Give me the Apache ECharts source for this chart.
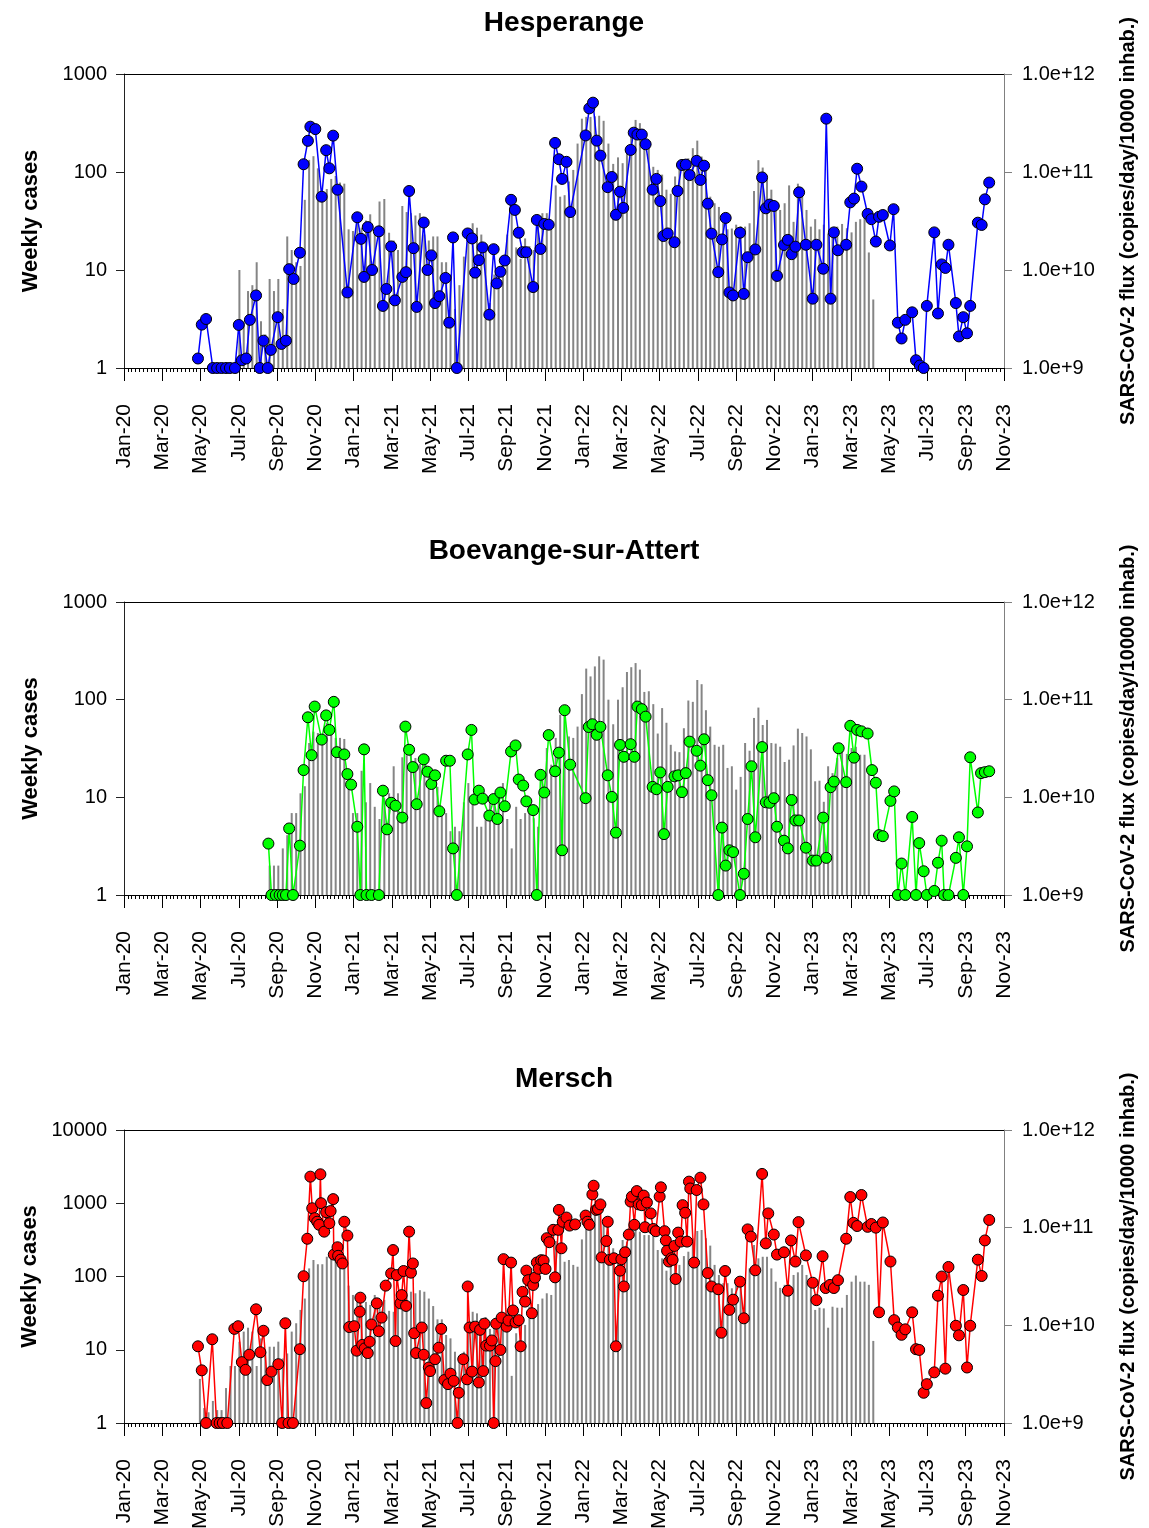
<!DOCTYPE html>
<html><head><meta charset="utf-8">
<script src="https://cdn.jsdelivr.net/npm/echarts@6/dist/echarts.min.js"></script>
<style>html,body{margin:0;padding:0;background:#fff}#c{width:1149px;height:1528px}</style>
</head><body><div id="c"></div>
<script>
// ---------- DATA ----------
// x positions: days since 2020-01-01; flux values in units of 1e9 copies/day/10000 inhab.
const FLUX_UNIT = 1e9;
const titles = ['Hesperange', 'Boevange-sur-Attert', 'Mersch'];
const lineColors = ['#0000ff', '#00ff00', '#ff0000'];
const leftMax = [1000, 1000, 10000];
const monthNames = ['Jan','Feb','Mar','Apr','May','Jun','Jul','Aug','Sep','Oct','Nov','Dec'];

// Hesperange
const hespDay = [117,123,130,141,148,155,162,168,176,182,
187,194,200,210,216,222,229,234,245,251,
258,263,270,280,286,293,297,305,315,322,
327,333,340,356,372,378,383,389,396,406,
412,417,424,430,442,448,453,460,465,476,
482,488,494,501,511,517,523,529,546,553,
558,564,570,581,588,593,599,606,616,622,
628,634,640,651,657,663,669,676,686,692,
697,704,710,735,741,747,753,759,770,776,
782,788,793,805,810,816,823,829,840,846,
852,857,864,875,880,887,893,899,910,916,
922,928,934,945,951,957,963,969,980,986,
992,1004,1015,1021,1027,1034,1039,1050,1056,1062,
1068,1074,1085,1096,1102,1113,1118,1125,1130,1136,
1148,1154,1160,1165,1172,1182,1188,1195,1200,1206,
1217,1223,1230,1236,1242,1253,1259,1265,1271,1276,
1288,1294,1300,1306,1311,1323,1328,1335,1341,1346,
1358,1364,1369,1376];
const hespFlux = [1.25,2.77,3.16,1,1,1,1,1,1,2.75,
1.2,1.25,3.1,5.5,1,1.9,1,1.53,3.3,1.76,
1.9,10.2,8.1,15,120,208,290,274,56,167,
109,235,66,5.9,34.5,20.8,8.5,27.4,10,24.8,
4.3,6.4,17.4,4.9,8.5,9.5,64,16.7,4.2,30.5,
10,14.1,4.6,5.4,8.3,2.9,21.5,1,23.6,21,
9.4,12.6,17,3.5,16.3,7.3,9.6,12.5,52,41,
24,15.2,15.2,6.7,32.4,16.4,29.5,29,198,135,
85,127,39,236,446,510,209,147,70,89,
36.6,63,43,168,252,241,241,192,66,85,
50.5,22.2,23.6,19.2,64,118,119,93,130,83,
116,47.5,23.5,9.5,20.5,34,5.9,5.5,24,5.7,
13.5,16.2,88,42.6,46.5,45,8.7,18,20.3,14.5,
17.3,62,18.1,5.1,18.1,10.3,350,5.1,24.2,15.9,
18.1,49,53.5,108,71,37.3,33,19.5,34.9,36.4,
17.8,41.7,2.9,2.0,3.1,3.7,1.2,1.06,1,4.3,
24.2,3.6,11.4,10.5,18.1,4.6,2.1,3.3,2.26,4.3,
30.4,28.8,52.6,78];
const hespBarStart = 183; // weekly bars from this day
const hespCases = [10,2.9,6.1,7,12,3,2.2,8.1,6.1,8.1,
4,22,16,12,11,52,133,145,109,56,
67,85,91,78,76,26,25,30,27,32,
37,26,50,53,24,20,16,45,39,38,
36,38,23,20,22,22,12,12,9,4,
7,13.7,26,30,27,23,17,4.6,9,10.7,
14,23,42,17,13,21,17.5,16,30,38,
38,27,73,56,
58,80,105,195,350,365,365,370,375,333,
195,121,141,123,175,270,340,315,247,182,
113,105,94,66,60,90,105,123,138,175,
209,144,107,56,48,44,30,26,26.5,29,
28,27.7,30,64,132,111,84,66,42,41,
48,73,31,76,66,41,27.7,33,26,29,
23.6,21.5,27.7,29.5,26.7,24.2,31,33,35,15.1,
5];

// Boevange-sur-Attert
const boevDay = [230,235,242,248,253,258,263,269,280,286,
293,299,304,315,322,327,334,339,351,356,
362,372,377,383,387,395,406,412,418,424,
431,442,447,453,459,465,476,482,488,494,
501,512,518,523,529,546,552,557,564,570,
581,588,594,599,606,616,623,628,635,640,
651,657,663,669,676,686,692,697,701,710,
735,740,746,753,759,770,776,782,788,794,
805,811,816,823,829,840,846,852,858,864,
875,881,887,893,899,910,916,922,928,934,
945,951,957,963,969,980,986,992,998,1004,
1015,1021,1027,1034,1039,1050,1056,1062,1068,1074,
1085,1096,1102,1113,1118,1125,1130,1137,1148,1154,
1160,1165,1172,1182,1189,1195,1200,1206,1218,1224,
1230,1236,1242,1253,1259,1264,1271,1276,1288,1294,
1300,1304,1311,1323,1328,1335,1341,1346,1358,1363,
1369,1376];
const boevFlux = [3.36,1,1,1,1,1,4.8,1,3.2,19,
66,27,85,39,69,49,95,29,27.5,17.3,
13.5,5,1,31,1,1,1,11.7,4.7,8.8,
8.2,6.2,53,30.7,20.4,8.5,24.5,18.3,13.7,16.8,
7.2,23.7,23.7,3,1,27.5,49,9.5,11.7,9.7,
6.5,9.6,6,11.2,8.1,29.5,34,15.2,13.2,9.1,
7.4,1,17,11.2,43.4,18.5,28.7,2.87,78,21.6,
9.8,52.5,56,43.7,52.7,16.8,10.1,4.35,34.4,26,
35,26,85,80,67,12.8,12.1,18,4.2,12.8,
16.4,16.8,11.3,17.7,37.2,30,21.1,39.3,15,10.5,
1,4.9,2,2.87,2.75,1,1.65,6,20.8,3.9,
32.7,8.9,8.8,9.8,5,3.6,3,9.4,5.8,5.8,
3.05,2.25,2.25,6.2,2.4,12.7,14.5,31.8,14.3,54,
25.5,49,47.4,45,19,14.1,4.1,4,9.2,11.5,
1,2.1,1,6.3,1,3.4,1.75,1,1.1,2.14,
3.6,1,1,2.4,3.9,1,3.15,25.7,7,17.7,
18.1,18.5];
const boevBarStart = 232;
const boevCases = [2,2,2,3,4.1,6.9,6.9,11,13,36,
47,45.6,44,58,53,40.6,40.6,39.6,17,6.9,
6.9,18.7,8.9,14,8,6,9.8,11,20.8,11,
25.7,27,29,25.3,22,21.6,18.5,18.9,12.8,6.9,
6.9,4.5,5,4.5,8.9,14,8.4,5,5,7.2,
9.1,10.6,11.5,14,6,3,8,6,6.9,8,
6.1,5,17,32,21.6,40.6,70,
76,42,40.6,53,114,208,173,219,278,257,
100,56,100,134,192,215,237,203,120,122,
90,45,82,58,34.5,29.5,29,51,98,95,
159,144,78,53,34.5,33,34.5,20,20.8,12,
16.2,36,30,65,83,55,62,36,35.5,33,
23,24.3,34,50.5,45.6,42,31,14.6,14.8,9,
20.8,17.7,25.3,29.5,27.8,32,33,27.3,27.3,20.8];

// Mersch
const merDay = [117,123,130,140,147,152,157,164,175,181,
187,193,199,210,217,222,228,235,246,252,
257,262,269,280,286,292,297,300,304,308,
311,313,314,319,322,327,329,333,334,340,
341,345,348,351,356,359,367,371,376,377,
380,384,389,392,395,403,406,410,416,424,
427,431,433,439,441,444,448,453,456,459,
461,464,473,476,480,484,486,494,500,504,
509,515,519,524,530,532,539,545,546,549,
553,558,564,566,571,573,576,582,585,588,
591,592,599,601,604,609,612,616,619,623,
628,631,634,638,640,643,649,651,654,657,
660,664,668,671,673,677,683,686,691,692,
696,698,704,709,718,735,738,741,746,748,
752,755,759,761,768,770,773,779,782,788,
790,794,796,802,805,807,811,815,818,823,
826,828,831,837,841,845,851,853,859,861,
863,866,870,872,875,877,881,885,888,892,
895,898,900,906,910,916,921,928,934,945,
950,956,963,969,980,986,992,997,1004,1015,
1021,1025,1034,1039,1050,1056,1061,1068,1073,1085,
1096,1102,1112,1117,1124,1130,1136,1148,1154,1159,
1165,1172,1182,1188,1195,1200,1206,1218,1224,1230,
1236,1242,1253,1259,1264,1271,1276,1288,1294,1300,
1306,1311,1323,1328,1335,1341,1346,1358,1364,1369,
1376];
const merFlux = [6.1,3.46,1,7.2,1,1,1,1,9.2,9.8,
4.2,3.5,5.0,14.6,5.3,8.8,2.75,3.36,4.0,1,
10.5,1,1,5.7,31.8,77,333,158,125,115,
107,352,178,91,144,111,148,196,53,63,
51.5,47,43,115,83,9.6,9.8,5.5,13.8,19.2,
6.3,5.8,5.2,6.8,10.2,16.8,8.7,12,25.5,34,
59,6.9,32.7,16.8,20.4,36,15.8,91,34.6,43,
8.3,5.2,9.5,5.0,1.6,3.7,3.4,4.5,5.9,9.2,
2.75,2.5,3.2,2.7,1,2.04,4.5,2.8,25,9.5,
3.36,9.7,2.6,9.0,3.4,10.4,6.2,6.2,7.0,1,
4.3,10.4,5.6,12,47.6,9.7,11.2,43.9,14.2,10.7,
11.3,6.1,22,17.5,36.3,29,13.3,25.9,30.8,44,
38,46.5,46,37.8,78,71,95,31,95,152,
61.5,115,127,105,108,133,115,107,219,269,
152,155,173,49.6,73,115,46.8,48.6,6.1,36.3,
47.5,25,56,85,185,208,107,237,173,170,
213,101,181,140,97,92,208,259,92,74,
58,45,48.6,46.8,65,29.8,89,72,170,142,
72,296,252,43.9,243,325,173,34.3,25,23.4,
8.4,36,14.4,18.3,28,11.8,96,81,36.6,355,
69,140,85,53,56,22.6,74,45,114,52,
27.3,18.1,51,24.1,25.9,24.1,29,77,206,112,
104,216,102,109,100,13.6,113,45,11.3,9.5,
8.0,9.1,13.6,5.7,5.6,2.04,2.5,3.3,20.1,31.6,
3.6,39.6,9.9,7.9,23,3.7,9.9,47,32,74,
120];
const merBarStart = 120;
const merCases = [4,1.6,1.4,2,1.5,1.5,3,6,6,12.9,
17.7,20,17.7,6,14.3,9.4,11,11,12.9,7.6,
8.9,17.7,23,35,50,129,168,147,147,186,
196,219,186,177,75,56,50,41,45,41,
56,41,48,34,33,41,50,56,62,59,
65,62,50,39.5,26,26,15.9,14.3,9.4,7.6,
9.4,21.8,33,31.4,26.9,28,19.2,19.6,23,28,
35,4.4,16.8,26.9,21.8,38.7,33,42,50,59,
56,305,213,
159,168,144,136,321,505,505,826,751,562,
333,243,177,315,299,454,454,409,368,368,
409,230,177,120,144,144,144,190,218,333,
418,431,333,264,144,105,81,81,69,85,
90,81,129,269,177,186,186,129,85,70,
77,78,105,114,144,105,77,35,37.5,36.7,
20,38.7,37.5,37.5,56,85,103,85,85,77,
13.2];

// ---------- HELPERS ----------
function dayToMonth(d) {
  const dt = new Date(Date.UTC(2020, 0, 1) + Math.round(d) * 86400000);
  const y = dt.getUTCFullYear(), m = dt.getUTCMonth(), dd = dt.getUTCDate();
  const dim = new Date(Date.UTC(y, m + 1, 0)).getUTCDate();
  return (y - 2020) * 12 + m + (dd - 1) / dim;
}
function linePts(days, vals) {
  return days.map((d, i) => [dayToMonth(d), vals[i] * FLUX_UNIT]).sort((a, b) => a[0] - b[0]);
}
function barPts(start, vals) {
  return vals.map((v, i) => [dayToMonth(start + 7 * i), v]);
}

const FONT = '"Liberation Sans", Arial, Helvetica, sans-serif';
const lines = [linePts(hespDay, hespFlux), linePts(boevDay, boevFlux), linePts(merDay, merFlux)];
const bars = [barPts(hespBarStart, hespCases), barPts(boevBarStart, boevCases), barPts(merBarStart, merCases)];

const tops = [74, 602, 1130];
const heights = [294, 293, 293];

const grid = [], xAxis = [], yAxis = [], series = [], graphic = [];
for (let i = 0; i < 3; i++) {
  grid.push({left: 124, right: 145, top: tops[i], height: heights[i], containLabel: false, outerBoundsMode: 'none'});
  xAxis.push({
    gridIndex: i, type: 'value', min: 0, max: 46, interval: 2, position: 'bottom',
    axisLine: {show: true, onZero: false, lineStyle: {color: '#000', width: 1}},
    axisTick: {show: true, length: 13, inside: false, lineStyle: {color: '#000', width: 1}},
    minorTick: {show: true, splitNumber: 10, length: 4, lineStyle: {color: '#000', width: 1}},
    splitLine: {show: false}, minorSplitLine: {show: false},
    axisLabel: {
      rotate: 90, margin: 36, fontSize: 21, color: '#000', fontFamily: FONT,
      formatter: v => { const k = Math.round(v); return monthNames[k % 12] + '-' + (20 + Math.floor(k / 12)); }
    }
  });
  xAxis.push({
    gridIndex: i, type: 'value', min: 0, max: 46, position: 'top',
    axisLine: {show: true, onZero: false, lineStyle: {color: '#000', width: 1}},
    axisTick: {show: false}, axisLabel: {show: false}, splitLine: {show: false}
  });
  yAxis.push({
    gridIndex: i, type: 'log', logBase: 10, min: 1, max: leftMax[i], position: 'left',
    name: 'Weekly cases', nameLocation: 'middle', nameRotate: 90, nameGap: 82,
    nameTextStyle: {fontSize: 22, fontWeight: 'bold', color: '#000', fontFamily: FONT},
    axisLine: {show: true, onZero: false, lineStyle: {color: '#222', width: 1}},
    axisTick: {show: true, length: 8, inside: false, lineStyle: {color: '#222'}},
    minorTick: {show: false},
    splitLine: {show: false},
    axisLabel: {margin: 17, fontSize: 20, color: '#000', fontFamily: FONT, formatter: v => String(Math.round(v))}
  });
  yAxis.push({
    gridIndex: i, type: 'log', logBase: 10, min: 1e9, max: 1e12, position: 'right',
    name: 'SARS-CoV-2 flux (copies/day/10000 inhab.)', nameLocation: 'middle', nameRotate: 90, nameGap: 114,
    nameTextStyle: {fontSize: 20, fontWeight: 'bold', color: '#000', fontFamily: FONT},
    axisLine: {show: true, onZero: false, lineStyle: {color: '#808080', width: 1}},
    axisTick: {show: true, length: 8, inside: false, lineStyle: {color: '#808080'}},
    minorTick: {show: false},
    splitLine: {show: false},
    axisLabel: {margin: 18, fontSize: 20, color: '#000', fontFamily: FONT,
      formatter: v => '1.0e+' + Math.round(Math.log10(v))}
  });
  series.push({
    type: 'bar', xAxisIndex: 2 * i, yAxisIndex: 2 * i, data: bars[i], barWidth: 2,
    itemStyle: {color: '#858585'}, z: 1, silent: true
  });
  series.push({
    type: 'line', xAxisIndex: 2 * i, yAxisIndex: 2 * i + 1, data: lines[i],
    symbol: 'circle', symbolSize: 11, showAllSymbol: true,
    lineStyle: {color: lineColors[i], width: 1.5},
    itemStyle: {color: lineColors[i], borderColor: '#000', borderWidth: 1},
    z: 3, silent: true
  });
  graphic.push({
    type: 'text', x: 564, y: tops[i] - 51,
    style: {text: titles[i], fill: '#000', font: 'bold 28px ' + FONT,
      textAlign: 'center', textVerticalAlign: 'middle', verticalAlign: 'middle'}
  });
}

const chart = echarts.init(document.getElementById('c'), null, {renderer: 'canvas'});
chart.setOption({animation: false, backgroundColor: '#fff', grid, xAxis, yAxis, series, graphic});
</script>
</body></html>
